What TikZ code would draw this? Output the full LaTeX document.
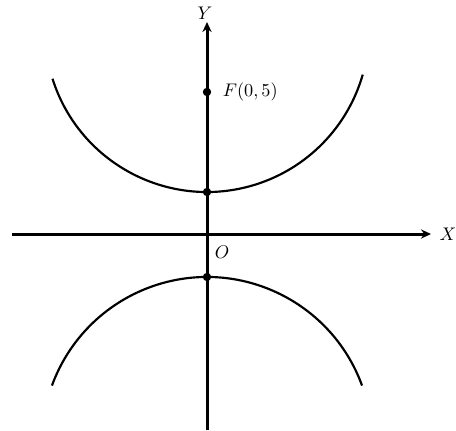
\documentclass[tikz,border=0pt]{standalone}
\usepackage{amsmath,amssymb}
\usepackage{tikz}
\usetikzlibrary{arrows.meta,positioning}
\tikzset{dot/.style={circle,fill,inner sep=0pt,minimum size=5pt},
  lab/.style={font=\fontsize{11}{13}\selectfont}}

\begin{document}
\begin{tikzpicture}[x=0.6pt,y=0.6pt,>={Stealth[length=6pt,width=5.5pt]}]
        \useasboundingbox (-207,-196) rectangle (249,234);
        \coordinate (xl) at (-195,0); \coordinate (xr) at (224,0);
        \coordinate (yb) at (0,-196); \coordinate (yt) at (0,212);
        \draw[->,line width=1.8pt] (xl) -- (xr); % X axis
        \draw[->,line width=1.8pt] (yb) -- (yt); % Y axis
        \draw[line width=1.3pt] (0,204) ++(197.5:97.2pt) arc[start angle=197.5,end angle=344,radius=97.2pt]; % upper branch
        \draw[line width=1.3pt] (0,-208) ++(20:99pt) arc[start angle=20,end angle=160,radius=99pt]; % lower branch
        \node[dot] (A) at (0,42) {};
        \node[dot] (B) at (0,-43) {};
        \node[dot] (F) at (0,142) {};
        \node[lab,anchor=west] (flab) at (10,142) {$F(0,5)$};
        \node[lab] (xlab) at (241,0) {$X$};
        \node[lab] (ylab) at (-2,221) {$Y$};
        \node[lab] (olab) at (15,-18) {$O$};
      \end{tikzpicture}
\end{document}
